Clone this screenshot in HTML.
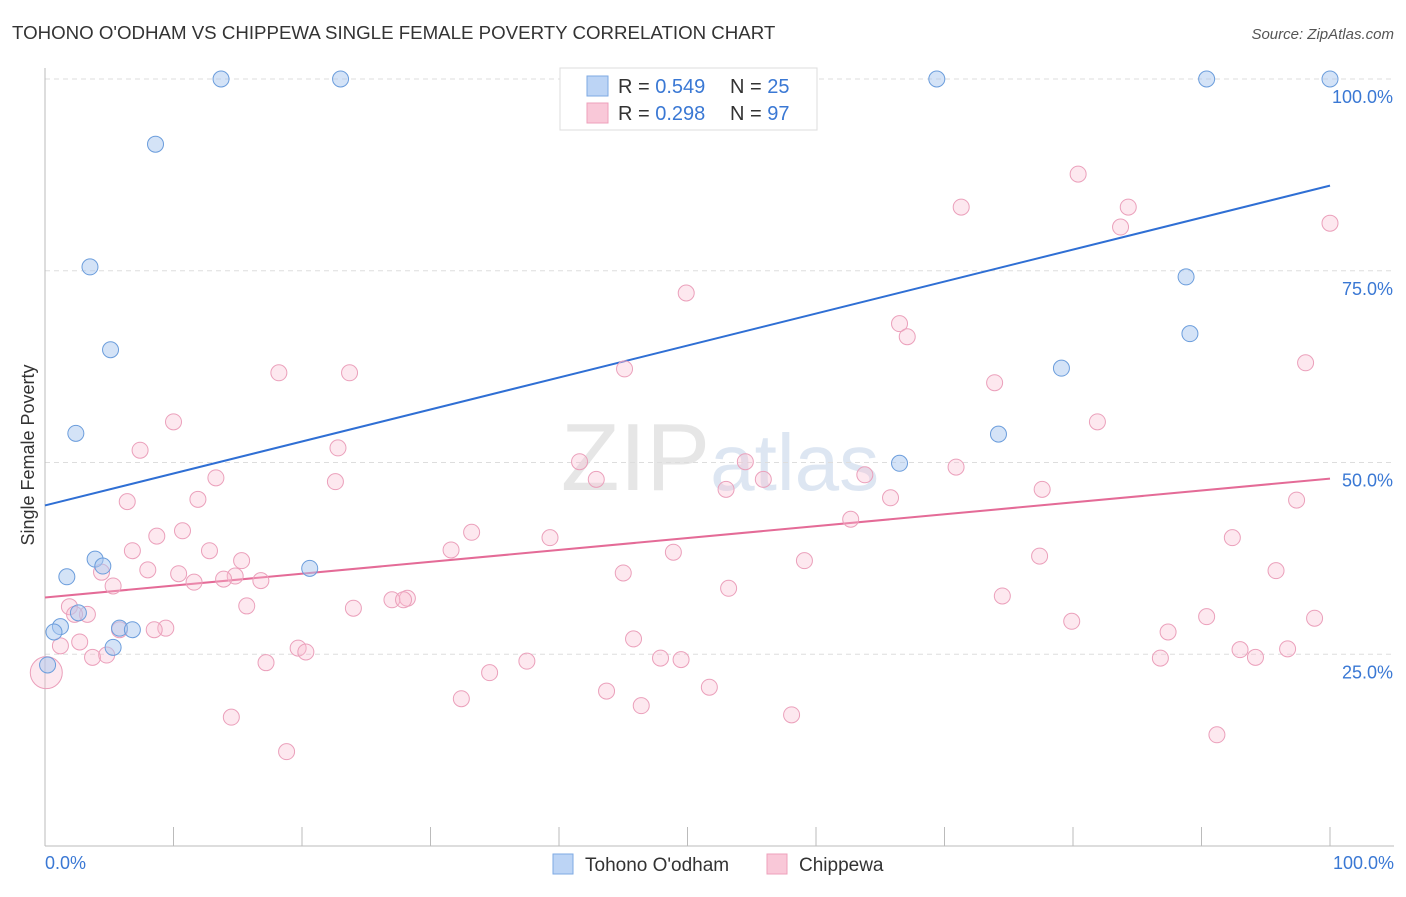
<!DOCTYPE html>
<html><head><meta charset="utf-8"><style>
body{margin:0;background:#fff;font-family:"Liberation Sans",sans-serif;}
svg text{font-family:"Liberation Sans",sans-serif;}
</style></head><body>
<svg id="chart" width="1406" height="892" xmlns="http://www.w3.org/2000/svg">
<text x="12" y="39" font-size="18.7" fill="#333">TOHONO O'ODHAM VS CHIPPEWA SINGLE FEMALE POVERTY CORRELATION CHART</text>
<text x="1394" y="39" font-size="15" fill="#555" font-style="italic" text-anchor="end">Source: ZipAtlas.com</text>
<text x="720" y="490" font-size="96" fill="#e6e6e6" text-anchor="middle" font-family="Liberation Serif">ZIP<tspan fill="#dde6f2" font-family="Liberation Sans" font-size="80">atlas</tspan></text>
<g id="grid"></g>
<g id="axes"></g>
<g id="trends"></g>
<g id="points"></g>
<text transform="translate(34,455) rotate(-90)" font-size="18" fill="#333" text-anchor="middle">Single Female Poverty</text>
<g>
<rect x="560" y="68" width="257" height="62" fill="#fff" stroke="#ddd"/>
<rect x="587" y="76" width="21" height="20" fill="#bcd4f5" stroke="#7eaae3"/>
<rect x="587" y="103" width="21" height="20" fill="#f9c8d8" stroke="#eea0bb"/>
<text x="618" y="93" font-size="20" fill="#333">R = <tspan fill="#3a78d4">0.549</tspan></text>
<text x="730" y="93" font-size="20" fill="#333">N = <tspan fill="#3a78d4">25</tspan></text>
<text x="618" y="120" font-size="20" fill="#333">R = <tspan fill="#3a78d4">0.298</tspan></text>
<text x="730" y="120" font-size="20" fill="#333">N = <tspan fill="#3a78d4">97</tspan></text>
</g>
<g>
<rect x="553" y="854" width="20" height="20" fill="#bcd4f5" stroke="#7eaae3"/>
<text x="585" y="871" font-size="19" fill="#333">Tohono O'odham</text>
<rect x="767" y="854" width="20" height="20" fill="#f9c8d8" stroke="#eea0bb"/>
<text x="799" y="871" font-size="19" fill="#333">Chippewa</text>
</g>
</svg>
<script>
const yTicks=[25,50,75,100];
const yTickLabels=["25.0%","50.0%","75.0%","100.0%"];
const xTickLabels=["0.0%","100.0%"];
const blueX=[13.7,23.0,69.4,90.4,100,8.6,3.5,5.1,2.4,88.8,89.1,79.1,74.2,66.5,20.6,3.9,1.7,4.5,2.6,1.2,0.7,5.8,6.8,5.3,0.2];
const blueY=[100,100,100,100,100,91.5,75.5,64.7,53.8,74.2,66.8,62.3,53.7,49.9,36.2,37.4,35.1,36.5,30.4,28.6,27.9,28.4,28.2,25.9,23.6];
const pinkX=[80.4,71.3,84.3,83.7,100,49.9,66.5,67.1,18.2,23.7,45.1,73.9,98.1,10.0,81.9,7.4,22.8,41.6,54.5,70.9,13.3,22.6,42.9,55.9,63.8,53.0,77.6,11.9,6.4,65.8,97.4,33.2,10.7,8.7,39.3,62.7,92.4,12.8,6.8,31.6,48.9,15.3,59.1,77.4,8.0,10.4,14.8,4.4,13.9,16.8,11.6,5.3,45.0,95.8,53.2,74.5,27.0,28.2,27.9,15.7,24.0,1.9,3.3,2.3,90.4,98.8,79.9,9.4,8.5,5.8,2.7,1.2,45.8,87.4,19.7,20.3,3.7,4.8,93.0,96.7,94.2,37.5,47.9,49.5,86.8,17.2,34.6,51.7,43.7,32.4,46.4,14.5,58.1,18.8,91.2,0.1];
const pinkY=[87.6,83.3,83.3,80.7,81.2,72.1,68.1,66.4,61.7,61.7,62.2,60.4,63.0,55.3,55.3,51.6,51.9,50.1,50.1,49.4,48.0,47.5,47.8,47.8,48.4,46.5,46.5,45.2,44.9,45.4,45.1,40.9,41.1,40.4,40.2,42.6,40.2,38.5,38.5,38.6,38.3,37.2,37.2,37.8,36.0,35.5,35.2,35.7,34.8,34.6,34.4,33.9,35.6,35.9,33.6,32.6,32.1,32.3,32.1,31.3,31.0,31.2,30.2,30.2,29.9,29.7,29.3,28.4,28.2,28.2,26.6,26.1,27.0,27.9,25.8,25.3,24.6,24.9,25.6,25.7,24.6,24.1,24.5,24.3,24.5,23.9,22.6,20.7,20.2,19.2,18.3,16.8,17.1,12.3,14.5,22.6];
const blueTrend=[44.4,86.1];
const pinkTrend=[32.4,47.9];
const NS="http://www.w3.org/2000/svg";
const X=v=>45+v*12.85, Y=v=>846-v*7.67;
function mk(t,a,p){const e=document.createElementNS(NS,t);for(const k in a)e.setAttribute(k,a[k]);p.appendChild(e);return e;}
const grid=document.getElementById('grid'),axes=document.getElementById('axes');
yTicks.forEach((t,i)=>{
 const l=mk('line',{x1:45,x2:1394,y1:Y(t),y2:Y(t),stroke:'#ddd','stroke-dasharray':'5,4'},grid);
 
 
 const tx=mk('text',{x:1393,y:Y(t)+24,'font-size':18,fill:'#3a78d4','text-anchor':'end'},axes);
 tx.textContent=yTickLabels[i];
 
 
});
const ax=mk('line',{x1:45,x2:45,y1:68,y2:846,stroke:'#bbb'},axes);


const bx=mk('line',{x1:45,x2:1394,y1:846,y2:846,stroke:'#bbb'},axes);


for(let k=0;k<=10;k++){const t=mk('line',{x1:X(k*10),x2:X(k*10),y1:827,y2:846,stroke:'#bbb'},axes);
 
 }
[[0,'start',45],[100,'end',1394]].forEach((d,i)=>{const t=mk('text',{x:d[2],y:869,'font-size':18,fill:'#3a78d4','text-anchor':d[1]},axes);t.textContent=xTickLabels[i];
 
 });
const tr=document.getElementById('trends');
const bl=mk('line',{x1:X(0),y1:Y(blueTrend[0]),x2:X(100),y2:Y(blueTrend[1]),stroke:'#2f6fd4','stroke-width':2},tr);


const pl=mk('line',{x1:X(0),y1:Y(pinkTrend[0]),x2:X(100),y2:Y(pinkTrend[1]),stroke:'#e46b97','stroke-width':2},tr);


const pts=document.getElementById('points');
pinkX.forEach((x,i)=>{const r=(i===pinkX.length-1)?16:8;
 const c=mk('circle',{cx:X(x),cy:Y(pinkY[i]),r:r,fill:'rgba(248,190,210,0.35)',stroke:'#eba0bb','stroke-width':1},pts);
 
 });
blueX.forEach((x,i)=>{
 const c=mk('circle',{cx:X(x),cy:Y(blueY[i]),r:8,fill:'rgba(170,200,240,0.5)',stroke:'#6b9ddc','stroke-width':1},pts);
 
 });
</script>
</body></html>
